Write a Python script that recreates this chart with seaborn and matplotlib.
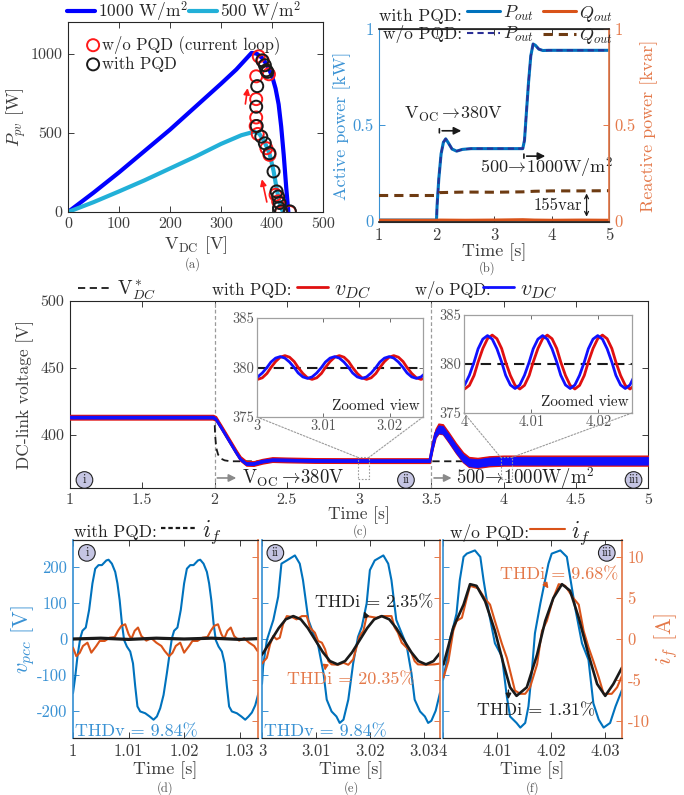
import numpy as np
import matplotlib.pyplot as plt
import seaborn as sns
from matplotlib.patches import Rectangle, ConnectionPatch

# ---------------- data ----------------
# (a) P-V curves and operating points
v_pv_1000 = [0, 50, 100, 150, 200, 250, 300, 330, 350, 360, 370, 380, 390, 400, 407, 413, 418, 423, 428, 432]
p_pv_1000 = [0, 122, 250, 385, 520, 665, 810, 900, 970, 1005, 1000, 975, 930, 860, 780, 680, 540, 360, 150, 0]
v_pv_500 = [0, 50, 100, 150, 200, 250, 300, 340, 365, 375, 385, 395, 403, 409, 414, 418, 422]
p_pv_500 = [0, 62, 130, 200, 275, 350, 430, 485, 507, 495, 445, 370, 260, 150, 70, 25, 0]
v_op_wo = [374, 382, 369, 394, 369, 369, 368, 372, 389, 395, 407, 412, 418, 435]
p_op_wo = [983, 954, 857, 870, 713, 597, 543, 493, 403, 361, 109, 67, 0, 0]
v_op_with = [381, 386, 389, 391, 371, 369, 370, 379, 386, 395, 403, 409, 412, 415, 414, 418, 435]
p_op_with = [958, 927, 895, 885, 795, 665, 543, 476, 434, 371, 256, 130, 98, 57, 25, 4, 4]

# (b) output powers
t_p = [1.0, 2.0, 2.01, 2.04, 2.08, 2.12, 2.16, 2.2, 2.27, 2.35, 2.45, 2.6, 3.5, 3.53, 3.56, 3.6, 3.64, 3.68, 3.72, 3.78, 3.85, 3.95, 5.0]
p_out_with = [0.005, 0.005, 0.08, 0.22, 0.35, 0.41, 0.428, 0.41, 0.375, 0.364, 0.373, 0.377, 0.377, 0.42, 0.55, 0.72, 0.86, 0.922, 0.915, 0.895, 0.888, 0.889, 0.889]
p_out_wo = [0.005, 0.005, 0.08, 0.22, 0.35, 0.41, 0.428, 0.41, 0.375, 0.364, 0.373, 0.377, 0.377, 0.42, 0.55, 0.72, 0.86, 0.922, 0.915, 0.895, 0.888, 0.889, 0.889]
t_q = [1.0, 2.0, 2.05, 2.5, 3.0, 3.5, 3.7, 4.0, 4.5, 5.0]
q_out_with = [0.004, 0.004, 0.005, 0.004, 0.005, 0.007, 0.005, 0.004, 0.005, 0.004]
q_out_wo = [0.133, 0.133, 0.148, 0.151, 0.150, 0.152, 0.155, 0.157, 0.157, 0.158]

# (c) DC-link voltage
t_c = [1.0, 1.99, 2.01, 2.05, 2.10, 2.15, 2.18, 2.22, 2.27, 2.33, 2.40, 2.50, 2.70, 3.00, 3.49,
       3.51, 3.53, 3.55, 3.58, 3.62, 3.67, 3.72, 3.76, 3.82, 3.90, 4.00, 4.50, 5.00]
vdc_with = [413, 413, 412, 405, 396, 387, 382, 378.5, 378.3, 380, 381.3, 381, 380.6, 380.5, 380.5,
            392, 401, 404.5, 404, 398, 390, 383, 379.5, 378.8, 380, 380.5, 380.5, 380.5]
vdc_wo = [413, 413, 411.5, 404.5, 395.5, 386.5, 381.5, 378.2, 378.2, 380, 381.1, 380.9, 380.5, 380.4, 380.4,
          391, 400.5, 404, 403.5, 397.5, 389.5, 382.5, 379.2, 378.6, 379.9, 380.4, 380.4, 380.4]
rip_with = [1.7, 1.7, 1.7, 1.7, 1.7, 1.7, 1.7, 1.7, 1.7, 1.7, 1.7, 1.7, 1.7, 1.7, 1.7,
            2.6, 3.3, 3.7, 3.7, 3.7, 3.7, 3.7, 3.7, 3.7, 3.7, 3.7, 3.7, 3.7]
rip_wo = [1.0, 1.0, 1.0, 1.0, 1.0, 1.0, 1.0, 1.0, 1.0, 1.0, 1.0, 1.0, 1.0, 1.0, 1.0,
          1.8, 2.5, 2.9, 2.9, 2.9, 2.9, 2.9, 2.9, 2.9, 2.9, 2.9, 2.9, 2.9]
t_ref = [1.0, 2.0, 2.004, 2.012, 2.025, 2.045, 2.07, 2.11, 5.0]
v_ref = [413, 413, 400, 390, 385, 382, 380.7, 380, 380]
vdc_set = 380

# zoomed views (sampled every 30 degrees of the ripple)
t_z1 = [2.9994, 3.0001, 3.0008, 3.0015, 3.0021, 3.0028, 3.0035, 3.0042, 3.0049, 3.0056, 3.0062, 3.0069,
        3.0076, 3.0083, 3.0090, 3.0097, 3.0103, 3.0110, 3.0117, 3.0124, 3.0131, 3.0138, 3.0144, 3.0151,
        3.0158, 3.0165, 3.0172, 3.0179, 3.0185, 3.0192, 3.0199, 3.0206, 3.0213, 3.0220, 3.0226, 3.0233,
        3.0240, 3.0247, 3.0254]
z1_wo = [378.9, 379.05, 379.45, 380.0, 380.55, 380.95, 381.1, 380.95, 380.55, 380.0, 379.45, 379.05,
         378.9, 379.05, 379.45, 380.0, 380.55, 380.95, 381.1, 380.95, 380.55, 380.0, 379.45, 379.05,
         378.9, 379.05, 379.45, 380.0, 380.55, 380.95, 381.1, 380.95, 380.55, 380.0, 379.45, 379.05,
         378.9, 379.05, 379.45]
z1_with = [378.96, 378.8, 378.96, 379.4, 380.0, 380.6, 381.04, 381.2, 381.04, 380.6, 380.0, 379.4,
           378.96, 378.8, 378.96, 379.4, 380.0, 380.6, 381.04, 381.2, 381.04, 380.6, 380.0, 379.4,
           378.96, 378.8, 378.96, 379.4, 380.0, 380.6, 381.04, 381.2, 381.04, 380.6, 380.0, 379.4,
           378.96, 378.8, 378.96]
t_z2 = [3.9994, 4.0001, 4.0008, 4.0015, 4.0021, 4.0028, 4.0035, 4.0042, 4.0049, 4.0056, 4.0062, 4.0069,
        4.0076, 4.0083, 4.0090, 4.0097, 4.0103, 4.0110, 4.0117, 4.0124, 4.0131, 4.0138, 4.0144, 4.0151,
        4.0158, 4.0165, 4.0172, 4.0179, 4.0185, 4.0192, 4.0199, 4.0206, 4.0213, 4.0220, 4.0226, 4.0233,
        4.0240, 4.0247, 4.0254]
z2_wo = [377.5, 377.86, 378.85, 380.2, 381.55, 382.54, 382.9, 382.54, 381.55, 380.2, 378.85, 377.86,
         377.5, 377.86, 378.85, 380.2, 381.55, 382.54, 382.9, 382.54, 381.55, 380.2, 378.85, 377.86,
         377.5, 377.86, 378.85, 380.2, 381.55, 382.54, 382.9, 382.54, 381.55, 380.2, 378.85, 377.86,
         377.5, 377.86, 378.85]
z2_with = [377.82, 377.45, 377.82, 378.83, 380.2, 381.58, 382.58, 382.95, 382.58, 381.58, 380.2, 378.83,
           377.82, 377.45, 377.82, 378.83, 380.2, 381.58, 382.58, 382.95, 382.58, 381.58, 380.2, 378.83,
           377.82, 377.45, 377.82, 378.83, 380.2, 381.58, 382.58, 382.95, 382.58, 381.58, 380.2, 378.83,
           377.82, 377.45, 377.82]

# (d) region i
t_d_v = [1.0000, 1.0004, 1.0008, 1.0013, 1.0017, 1.0023, 1.0029, 1.0035, 1.0040, 1.0046, 1.0052, 1.0060,
         1.0064, 1.0070, 1.0076, 1.0080, 1.0084, 1.0088, 1.0092, 1.0097, 1.0103, 1.0108, 1.0112, 1.0116,
         1.0121, 1.0130, 1.0138, 1.0145, 1.0151, 1.0157, 1.0163, 1.0169, 1.0174, 1.0178, 1.0182, 1.0188,
         1.0194, 1.0200, 1.0205, 1.0211, 1.0217, 1.0225, 1.0229, 1.0235, 1.0241, 1.0245, 1.0249, 1.0253,
         1.0257, 1.0262, 1.0268, 1.0273, 1.0277, 1.0281, 1.0286, 1.0295, 1.0303, 1.0310, 1.0316, 1.0322,
         1.0328, 1.0334]
vpcc_d = [-151, -105, -49, 2, 23, 32, 81, 155, 196, 206, 206, 219, 221, 210, 187, 155, 108, 44, -3, -21,
          -35, -68, -132, -188, -202, -207, -216, -225, -216, -193, -156, -95, -40,
          2, 23, 32, 81, 155, 196, 206, 206, 219, 221, 210, 187, 155, 108, 44, -3, -21, -35, -68, -132,
          -188, -202, -207, -216, -225, -216, -205, -185, -150]
t_d_i = [1.0000, 1.0006, 1.0012, 1.0018, 1.0026, 1.0033, 1.0042, 1.0048, 1.0057, 1.0066, 1.0075, 1.0081,
         1.0087, 1.0094, 1.0100, 1.0105, 1.0111, 1.0117, 1.0123, 1.0132, 1.0141, 1.0150, 1.0159, 1.0165,
         1.0173, 1.0179, 1.0185, 1.0193, 1.0200, 1.0209, 1.0215, 1.0224, 1.0233, 1.0242, 1.0248, 1.0254,
         1.0261, 1.0267, 1.0272, 1.0278, 1.0284, 1.0290, 1.0299, 1.0308, 1.0317, 1.0326, 1.0332]
if_wo_d = [-1.06, -2.1, -1.7, -0.85, -0.45, -1.67, -0.85, -0.24, -0.24, 0.16, 0.24, 1.0, 1.6, 1.8, 0.6,
           0.0, 1.0, 1.4, 0.37, -0.2, 0.1, -0.45, -0.85, -1.46,
           -2.1, -1.7, -0.85, -0.45, -1.67, -0.85, -0.24, -0.24, 0.16, 0.24, 1.0, 1.6, 1.8, 0.6, 0.0,
           1.0, 1.4, 0.37, -0.2, 0.1, -0.45, -0.85, -1.46]
t_d_k = [1.0, 1.005, 1.010, 1.015, 1.020, 1.025, 1.030, 1.0334]
if_with_d = [0.0, 0.1, -0.05, 0.1, 0.0, 0.1, -0.05, 0.05]

# (e) region ii
t_e_v = [3.0000, 3.0002, 3.0009, 3.0015, 3.0021, 3.0030, 3.0036, 3.0046, 3.0061, 3.0070, 3.0076, 3.0086,
         3.0095, 3.0104, 3.0114, 3.0120, 3.0129, 3.0138, 3.0144, 3.0151, 3.0160, 3.0169, 3.0178, 3.0185,
         3.0194, 3.0200, 3.0209, 3.0225, 3.0234, 3.0240, 3.0249, 3.0259, 3.0268, 3.0277, 3.0283, 3.0293,
         3.0302, 3.0308, 3.0314, 3.0322, 3.0330]
vpcc_e = [-125, -77, -3, 25, 53, 118, 210, 219, 233, 210, 164, 53, 16, -17, -95, -169, -202, -216, -234,
          -225, -169, -68, 6, 34, 99, 192, 219, 233, 210, 164, 53, 16, -17, -95, -169, -202, -216, -234,
          -228, -200, -150]
t_e_i = [3.0000, 3.0009, 3.0015, 3.0021, 3.0027, 3.0033, 3.0039, 3.0046, 3.0055, 3.0064, 3.0074, 3.0083,
         3.0089, 3.0098, 3.0104, 3.0111, 3.0117, 3.0123, 3.0129, 3.0141, 3.0151, 3.0160, 3.0169, 3.0175,
         3.0181, 3.0188, 3.0194, 3.0203, 3.0212, 3.0222, 3.0240, 3.0246, 3.0252, 3.0259, 3.0268, 3.0277,
         3.0283, 3.0289, 3.0305, 3.0320, 3.0330]
if_wo_e = [-3.0, -2.3, -0.65, 0.37, -0.04, 0.16, 1.8, 2.8, 2.7, 2.4, 2.8, 2.8, 1.4, 0.77, -0.24, -0.45,
           -1.26, -2.7, -3.1, -3.15, -2.9, -3.15, -2.5, -1.05, 0.37, 1.0, 2.8, 2.7, 2.6, 2.8, 2.8, 1.4,
           0.77, -0.45, -1.05, -1.67, -2.7, -3.1, -3.15, -3.1, -3.0]
t_e_k = [2.9990, 3.0003, 3.0017, 3.0031, 3.0044, 3.0058, 3.0072, 3.0085, 3.0099, 3.0113, 3.0126, 3.0140,
         3.0154, 3.0167, 3.0181, 3.0195, 3.0208, 3.0222, 3.0236, 3.0249, 3.0263, 3.0277, 3.0290, 3.0304,
         3.0318, 3.0331, 3.0345]
if_with_e = [-2.7, -1.63, -0.15, 1.33, 2.4, 2.8, 2.4, 1.33, -0.15, -1.63, -2.7, -3.1, -2.7, -1.63, -0.15,
             1.33, 2.4, 2.8, 2.4, 1.33, -0.15, -1.63, -2.7, -3.1, -2.7, -1.63, -0.15]

# (f) region iii
t_f_v = [4.0000, 4.0010, 4.0014, 4.0019, 4.0025, 4.0031, 4.0038, 4.0044, 4.0059, 4.0069, 4.0075, 4.0084,
         4.0096, 4.0109, 4.0118, 4.0124, 4.0136, 4.0143, 4.0152, 4.0158, 4.0164, 4.0170, 4.0180, 4.0195,
         4.0201, 4.0217, 4.0229, 4.0235, 4.0244, 4.0257, 4.0269, 4.0278, 4.0288, 4.0297, 4.0309, 4.0319,
         4.0331]
vpcc_f = [-114, -39, 6, 34, 71, 164, 229, 238, 247, 229, 164, 80, -12, -49, -160, -216, -234, -247, -234,
          -188, -95, 16, 99, 210, 238, 247, 229, 173, 90, -12, -58, -179, -225, -247, -234, -188, -142]
t_f_i = [4.0001, 4.0010, 4.0019, 4.0025, 4.0035, 4.0044, 4.0050, 4.0065, 4.0078, 4.0087, 4.0096, 4.0109,
         4.0118, 4.0124, 4.0133, 4.0143, 4.0152, 4.0161, 4.0174, 4.0183, 4.0192, 4.0204, 4.0214, 4.0226,
         4.0241, 4.0251, 4.0260, 4.0269, 4.0278, 4.0288, 4.0297, 4.0312, 4.0322, 4.0331]
if_wo_f = [-4.7, -2.7, 1.0, 2.2, 2.6, 5.0, 6.5, 6.2, 4.9, 4.2, 2.2, -0.6, -2.3, -3.9, -6.3, -6.7, -6.7,
           -5.9, -3.1, 1.0, 2.2, 5.0, 6.7, 6.5, 5.0, 4.2, 1.0, -1.0, -2.7, -4.7, -6.7, -6.7, -5.9, -4.5]
t_f_k = [4.0001, 4.0019, 4.0038, 4.0050, 4.0062, 4.0078, 4.0096, 4.0112, 4.0124, 4.0136, 4.0155, 4.0174,
         4.0189, 4.0204, 4.0220, 4.0235, 4.0251, 4.0269, 4.0285, 4.0300, 4.0315, 4.0331]
if_with_f = [-3.1, 1.4, 4.2, 6.7, 6.5, 4.6, 1.0, -3.1, -5.9, -6.95, -5.9, -1.9, 2.2, 5.0, 6.7, 5.9, 2.6,
             -1.9, -5.5, -6.95, -5.5, -3.5]

# ---------------- style ----------------
sns.set_theme(style='white')
plt.rcParams['font.family'] = ['cmr10', 'DejaVu Serif']
plt.rcParams['mathtext.fontset'] = 'cm'
plt.rcParams['axes.formatter.use_mathtext'] = True
plt.rcParams['axes.unicode_minus'] = False

PV_BLUE = '#0000ff'
PV_CYAN = '#22b0d8'
RED = '#ff1a1a'
P_BLUE = '#0072BD'
P_DASH = '#2a2f96'
Q_ORANGE = '#D95319'
Q_BROWN = '#6e3b12'
TXT_BLUE = '#3a92d4'
TXT_ORANGE = '#e4794a'
GRAY = '#3c3c3c'
EDGE = '#262626'
VDC_RED = '#e01010'
VDC_BLUE = '#1010ff'

W, H = 684, 795


def px_box(l, t, r, b):
    return [l / W, 1 - b / H, (r - l) / W, (b - t) / H]


def fx(x):
    return x / W


def fy(y):
    return 1 - y / H


def style_box(ax, size=11.5):
    ax.tick_params(which='both', direction='in', length=4, width=0.7, top=True, right=True,
                   bottom=True, left=True, labelsize=size, colors=GRAY, pad=4)
    for sp in ax.spines.values():
        sp.set_color(EDGE)
        sp.set_linewidth(0.8)


def line(ax, x, y, **kw):
    sns.lineplot(x=x, y=y, ax=ax, estimator=None, sort=False, **kw)


fig = plt.figure(figsize=(6.84, 7.95), dpi=100)

# ---------------- (a) ----------------
ax_a = fig.add_axes(px_box(68, 22, 323, 212))
line(ax_a, v_pv_1000, p_pv_1000, color=PV_BLUE, linewidth=3)
line(ax_a, v_pv_500, p_pv_500, color=PV_CYAN, linewidth=3)
sns.scatterplot(x=v_op_wo, y=p_op_wo, ax=ax_a, s=75, facecolor='none', edgecolor=RED, linewidth=1.4, zorder=3)
sns.scatterplot(x=v_op_with, y=p_op_with, ax=ax_a, s=75, facecolor='none', edgecolor='k', linewidth=1.4, zorder=4)
ax_a.annotate('', xy=(353, 800), xytext=(347, 665),
              arrowprops=dict(arrowstyle='-|>', color=RED, lw=1.2, mutation_scale=9))
ax_a.annotate('', xy=(379, 224), xytext=(391, 46),
              arrowprops=dict(arrowstyle='-|>', color=RED, lw=1.2, mutation_scale=9))
ax_a.set_xlim(0, 500)
ax_a.set_ylim(0, 1200)
ax_a.set_xticks([0, 100, 200, 300, 400, 500], ['0', '100', '200', '300', '400', '500'])
ax_a.set_yticks([0, 500, 1000], ['0', '500', '1000'])
style_box(ax_a)
ax_a.set_xlabel(r'V$_{\rm DC}$ [V]', fontsize=13, color=GRAY, labelpad=2)
ax_a.set_ylabel(r'$P_{pv}$ [W]', fontsize=13, color=GRAY, labelpad=2)
leg_a1 = ax_a.legend(ax_a.lines[:2], ['1000 W/m$^2$', '500 W/m$^2$'], loc='lower center',
                     bbox_to_anchor=(0.455, 0.99), ncol=2, frameon=False, fontsize=12.5,
                     handlelength=1.6, handletextpad=0.15, columnspacing=0.1, borderpad=0, borderaxespad=0)
ax_a.add_artist(leg_a1)
ax_a.legend(ax_a.collections[:2], ['w/o PQD (current loop)', 'with PQD'], loc='upper left',
            bbox_to_anchor=(0.02, 0.99), frameon=False, fontsize=12, handletextpad=0.05,
            labelspacing=0.12, borderpad=0.2, handlelength=1.0)
fig.text(fx(193), fy(264), '(a)', fontsize=9, color='#555555', ha='center', va='center')

# ---------------- (b) ----------------
ax_b = fig.add_axes(px_box(379, 29, 609, 222))
ax_b2 = ax_b.twinx()
line(ax_b, t_p, p_out_with, color=P_BLUE, linewidth=2.2)
line(ax_b, t_p, p_out_wo, color=P_DASH, linewidth=1.5, linestyle=(0, (3, 2)))
line(ax_b2, t_q, q_out_with, color=Q_ORANGE, linewidth=2.2)
line(ax_b2, t_q, q_out_wo, color=Q_BROWN, linewidth=2.2, linestyle=(0, (3, 2)))
for a in (ax_b, ax_b2):
    a.set_xlim(1, 5)
    a.set_ylim(-0.005, 1.0)
style_box(ax_b, 12)
ax_b.tick_params(axis='y', right=False, colors=TXT_BLUE)
ax_b.spines['left'].set_color(TXT_BLUE)
ax_b2.tick_params(axis='y', direction='in', length=4, width=0.7, right=True, left=False,
                  labelsize=12, colors=TXT_ORANGE, pad=4)
ax_b2.spines['right'].set_color(TXT_ORANGE)
ax_b2.spines['left'].set_visible(False)
ax_b2.spines['top'].set_color(EDGE)
ax_b2.spines['bottom'].set_color(EDGE)
ax_b.set_xticks([1, 2, 3, 4, 5], ['1', '2', '3', '4', '5'])
ax_b.set_yticks([0, 0.5, 1], ['0', '0.5', '1'])
ax_b2.set_yticks([0, 0.5, 1], ['0', '0.5', '1'])
ax_b.set_xlabel('Time [s]', fontsize=13, color=GRAY, labelpad=0)
ax_b.set_ylabel('Active power [kW]', fontsize=13, color=TXT_BLUE, labelpad=1)
ax_b2.set_ylabel('Reactive power [kvar]', fontsize=13, color=TXT_ORANGE, labelpad=3)
ax_b.annotate('', xy=(2.48, 0.47), xytext=(2.05, 0.47),
              arrowprops=dict(arrowstyle='-|>', color='k', lw=1.2, mutation_scale=11))
ax_b.annotate('', xy=(2.05, 0.445), xytext=(2.05, 0.495),
              arrowprops=dict(arrowstyle='-', color='k', lw=1.2))
ax_b.text(2.29, 0.555, r'V$_{\rm OC}\rightarrow\!$380V', fontsize=13, color='#222222', ha='center', va='center')
ax_b.annotate('', xy=(3.94, 0.338), xytext=(3.52, 0.338),
              arrowprops=dict(arrowstyle='-|>', color='k', lw=1.2, mutation_scale=11))
ax_b.annotate('', xy=(3.52, 0.313), xytext=(3.52, 0.363),
              arrowprops=dict(arrowstyle='-', color='k', lw=1.2))
ax_b.text(3.91, 0.277, r'500$\!\rightarrow\!$1000W/m$^2$', fontsize=13, color='#222222', ha='center', va='center')
ax_b.annotate('', xy=(4.61, 0.008), xytext=(4.61, 0.158),
              arrowprops=dict(arrowstyle='<->', color='k', lw=0.9, mutation_scale=7))
ax_b.text(4.11, 0.08, '155var', fontsize=12, color='#222222', ha='center', va='center')
fig.text(fx(462), fy(16), 'with PQD:', fontsize=12.5, color='#222222', ha='right', va='center')
fig.text(fx(462), fy(34), 'w/o PQD:', fontsize=12.5, color='#222222', ha='right', va='center')
fig.legend([ax_b.lines[0], ax_b.lines[1], ax_b2.lines[0], ax_b2.lines[1]],
           [r'$P_{out}$', r'$P_{out}$', r'$Q_{out}$', r'$Q_{out}$'], ncol=2, loc='center left',
           bbox_to_anchor=(fx(467), fy(25)), frameon=False, fontsize=13, handlelength=1.8,
           handletextpad=0.2, columnspacing=0.5, labelspacing=0.15, borderpad=0, borderaxespad=0)
fig.text(fx(487), fy(268), '(b)', fontsize=9, color='#555555', ha='center', va='center')

# ---------------- (c) ----------------
ax_c = fig.add_axes(px_box(70, 301, 648, 488))
line(ax_c, t_ref, v_ref, color='k', linewidth=1.3, linestyle=(0, (4, 2.5)), zorder=2)
lo_w = [v - r for v, r in zip(vdc_with, rip_with)]
hi_w = [v + r for v, r in zip(vdc_with, rip_with)]
lo_o = [v - r for v, r in zip(vdc_wo, rip_wo)]
hi_o = [v + r for v, r in zip(vdc_wo, rip_wo)]
ax_c.fill_between(t_c, lo_w, hi_w, color=VDC_RED, lw=1.0, zorder=3)
line(ax_c, t_c, vdc_with, color=VDC_RED, linewidth=2, zorder=3.5)
ax_c.fill_between(t_c, lo_o, hi_o, color=VDC_BLUE, lw=0.6, zorder=4)
line(ax_c, t_c, vdc_wo, color=VDC_BLUE, linewidth=2, zorder=4.5)
for xv in (2.0, 3.5):
    ax_c.axvline(xv, color='#9a9a9a', lw=0.9, ls=(0, (3, 2)), zorder=1)
ax_c.set_xlim(1, 5)
ax_c.set_ylim(360, 500)
ax_c.set_xticks([1, 1.5, 2, 2.5, 3, 3.5, 4, 4.5, 5], ['1', '1.5', '2', '2.5', '3', '3.5', '4', '4.5', '5'])
ax_c.set_yticks([400, 450, 500], ['400', '450', '500'])
style_box(ax_c)
ax_c.set_xlabel('Time [s]', fontsize=12.5, color=GRAY, labelpad=-1)
ax_c.set_ylabel('DC-link voltage [V]', fontsize=12.5, color=GRAY, labelpad=5)
ax_c.annotate('', xy=(2.17, 367.5), xytext=(2.0, 367.5),
              arrowprops=dict(arrowstyle='-|>', color='#8a8a8a', lw=1.2, mutation_scale=11))
ax_c.text(2.19, 367.5, r'V$_{\rm OC}\rightarrow\!$380V', fontsize=13.5, color='#222222', va='center')
ax_c.annotate('', xy=(3.66, 367.5), xytext=(3.5, 367.5),
              arrowprops=dict(arrowstyle='-|>', color='#8a8a8a', lw=1.2, mutation_scale=11))
ax_c.text(3.67, 367.5, r'500$\!\rightarrow\!$1000W/m$^2$', fontsize=13.5, color='#222222', va='center')
for xt, lab in ((1.1, 'i'), (3.325, 'ii'), (4.9, 'iii')):
    ax_c.text(xt, 366, lab, fontsize=9, ha='center', va='center', color='#222222', zorder=6,
              bbox=dict(boxstyle='circle,pad=0.18', fc='#c5c5e3', ec='#222222', lw=0.8))
ax_c.add_patch(Rectangle((2.99, 367), 0.08, 16, fill=False, ec='#9a9a9a', lw=0.8, ls=(0, (1.5, 1.5)), zorder=5))
ax_c.add_patch(Rectangle((3.98, 367), 0.08, 16, fill=False, ec='#9a9a9a', lw=0.8, ls=(0, (1.5, 1.5)), zorder=5))

fig.legend([ax_c.lines[0]], [r'V$^*_{DC}$'], loc='center left', bbox_to_anchor=(fx(78), fy(290)),
           frameon=False, fontsize=14, handlelength=1.8, handletextpad=0.2, borderpad=0, borderaxespad=0)
fig.text(fx(212), fy(290), 'with PQD:', fontsize=12, color='#222222', va='center')
fig.legend([ax_c.lines[1]], [r'$v_{DC}$'], loc='center left', bbox_to_anchor=(fx(297), fy(290)),
           frameon=False, fontsize=16, handlelength=1.4, handletextpad=0.25,
           borderpad=0, borderaxespad=0)
fig.text(fx(415), fy(290), 'w/o PQD:', fontsize=12, color='#222222', va='center')
fig.legend([ax_c.lines[2]], [r'$v_{DC}$'], loc='center left', bbox_to_anchor=(fx(483), fy(290)),
           frameon=False, fontsize=16, handlelength=1.4, handletextpad=0.25,
           borderpad=0, borderaxespad=0)
fig.text(fx(360), fy(531), '(c)', fontsize=9, color='#555555', ha='center', va='center')

# zoomed insets
insets = [
    (px_box(257, 318, 423, 417), t_z1, z1_wo, z1_with, (3.0, 3.025), [3.0, 3.01, 3.02], ['3', '3.01', '3.02'], 2.99, 3.07),
    (px_box(464, 315, 632, 413), t_z2, z2_wo, z2_with, (4.0, 4.025), [4.0, 4.01, 4.02], ['4', '4.01', '4.02'], 3.98, 4.06),
]
for box, tz, zwo, zwith, xl, xt, xtl, r0, r1 in insets:
    axi = fig.add_axes(box)
    axi.axhline(vdc_set, color='k', lw=1.5, ls=(0, (5, 3)), zorder=1)
    line(axi, tz, zwith, color=VDC_RED, linewidth=2.0)
    line(axi, tz, zwo, color=VDC_BLUE, linewidth=2.0)
    axi.set_xlim(*xl)
    axi.set_ylim(375, 385)
    axi.set_xticks(xt, xtl)
    axi.set_yticks([375, 380, 385], ['375', '380', '385'])
    axi.tick_params(direction='in', length=3, width=0.6, top=True, right=True, bottom=True, left=True,
                    labelsize=10.5, colors='#555555', pad=2)
    for sp in axi.spines.values():
        sp.set_color('#a0a0a0')
        sp.set_linewidth(0.9)
    axi.text(0.98, 0.04, 'Zoomed view', transform=axi.transAxes, ha='right', va='bottom',
             fontsize=11, color='#222222')
    for xa, xd in ((0, r0), (1, r1)):
        cp = ConnectionPatch(xyA=(xa, 0), coordsA=axi.transAxes, xyB=(xd, 383), coordsB=ax_c.transData,
                             color='#9a9a9a', lw=0.8, ls=(0, (1.5, 1.5)))
        fig.add_artist(cp)

# ---------------- (d)(e)(f) ----------------
panels = [
    (px_box(73, 540, 258, 738), (1.0, 1.0333), [1.0, 1.01, 1.02, 1.03], ['1', '1.01', '1.02', '1.03'],
     t_d_v, vpcc_d, t_d_i, if_wo_d, t_d_k, if_with_d, '(d)', 'i', 0.075),
    (px_box(262, 540, 440, 738), (3.0, 3.0330), [3.0, 3.01, 3.02, 3.03], ['3', '3.01', '3.02', '3.03'],
     t_e_v, vpcc_e, t_e_i, if_wo_e, t_e_k, if_with_e, '(e)', 'ii', 0.075),
    (px_box(443, 540, 622, 738), (4.0, 4.0331), [4.0, 4.01, 4.02, 4.03], ['4', '4.01', '4.02', '4.03'],
     t_f_v, vpcc_f, t_f_i, if_wo_f, t_f_k, if_with_f, '(f)', 'iii', 0.915),
]
bottom_axes = []
for k, (box, xl, xt, xtl, tv, vv, ti, iv, tk, ik, cap, badge, bx) in enumerate(panels):
    ax = fig.add_axes(box)
    ax2 = ax.twinx()
    line(ax, tv, vv, color=P_BLUE, linewidth=1.5)
    line(ax2, ti, iv, color=Q_ORANGE, linewidth=1.5)
    line(ax2, tk, ik, color='k', linewidth=1.9 if k else 2.3)
    for a in (ax, ax2):
        a.set_xlim(*xl)
    ax.set_ylim(-276, 276)
    ax2.set_ylim(-12.1, 12.1)
    ax.set_xticks(xt, xtl)
    ax.set_yticks([-200, -100, 0, 100, 200], ['-200', '-100', '0', '100', '200'] if k == 0 else [])
    ax2.set_yticks([-10, -5, 0, 5, 10], ['-10', '-5', '0', '5', '10'] if k == 2 else [])
    ax.tick_params(axis='x', direction='in', length=4, width=0.7, top=True, bottom=True,
                   labelsize=12, colors=GRAY, pad=4)
    ax.tick_params(axis='y', direction='in', length=4, width=0.7, left=True, right=False,
                   labelsize=12, colors=TXT_BLUE, pad=4)
    ax2.tick_params(axis='y', direction='in', length=4, width=0.7, right=True, left=False,
                    labelsize=12, colors=TXT_ORANGE, pad=4)
    for sp in ('top', 'bottom'):
        ax.spines[sp].set_color(EDGE)
        ax2.spines[sp].set_color(EDGE)
        ax.spines[sp].set_linewidth(0.8)
        ax2.spines[sp].set_linewidth(0.8)
    ax.spines['left'].set_color(TXT_BLUE)
    ax.spines['right'].set_visible(False)
    ax2.spines['left'].set_visible(False)
    ax2.spines['right'].set_color(TXT_ORANGE)
    ax.set_xlabel('Time [s]', fontsize=13, color=GRAY, labelpad=2)
    ax.text(bx, 0.935, badge, transform=ax.transAxes, fontsize=9, ha='center',
            va='center', color='#222222', zorder=6,
            bbox=dict(boxstyle='circle,pad=0.18', fc='#c5c5e3', ec='#222222', lw=0.8))
    fig.text((box[0] + box[2] / 2), fy(788), cap, fontsize=9, color='#555555', ha='center', va='center')
    bottom_axes.append((ax, ax2))

ax_d, ax_d2 = bottom_axes[0]
ax_e, ax_e2 = bottom_axes[1]
ax_f, ax_f2 = bottom_axes[2]
ax_d.set_ylabel(r'$v_{pcc}$ [V]', fontsize=16, color=TXT_BLUE, labelpad=0)
ax_f2.set_ylabel(r'$i_f$ [A]', fontsize=16, color=TXT_ORANGE, labelpad=2)

ax_d.text(1.0004, -257, 'THDv = 9.84%', fontsize=13, color=TXT_BLUE, va='center')
ax_e.text(3.0003, -257, 'THDv = 9.84%', fontsize=13, color=TXT_BLUE, va='center')
ax_e2.text(3.0098, 4.4, 'THDi = 2.35%', fontsize=13, color='#222222', va='center')
ax_e2.annotate('', xy=(3.0187, 3.7), xytext=(3.0196, 2.3),
               arrowprops=dict(arrowstyle='-|>', color='k', lw=1.0, mutation_scale=8))
ax_e2.text(3.0046, -4.95, 'THDi = 20.35%', fontsize=13, color=TXT_ORANGE, va='center')
ax_e2.annotate('', xy=(3.0116, -4.2), xytext=(3.0118, -3.2),
               arrowprops=dict(arrowstyle='-|>', color=Q_ORANGE, lw=1.0, mutation_scale=8))
ax_f2.text(4.0106, 7.9, 'THDi = 9.68%', fontsize=13, color=TXT_ORANGE, va='center')
ax_f2.annotate('', xy=(4.0198, 5.9), xytext=(4.0184, 7.2),
               arrowprops=dict(arrowstyle='-|>', color=Q_ORANGE, lw=1.0, mutation_scale=8))
ax_f2.text(4.0063, -8.8, 'THDi = 1.31%', fontsize=13, color='#222222', va='center')
ax_f2.annotate('', xy=(4.0121, -7.7), xytext=(4.0121, -5.9),
               arrowprops=dict(arrowstyle='-|>', color='k', lw=1.0, mutation_scale=8))

fig.text(fx(74), fy(532), 'with PQD:', fontsize=12.5, color='#222222', va='center')
leg_k = fig.legend([ax_d2.lines[1]], [r'$i_f$'], loc='center left', bbox_to_anchor=(fx(161), fy(532)),
                   frameon=False, fontsize=17, handlelength=1.5, handletextpad=0.25, borderpad=0,
                   borderaxespad=0)
leg_k.legend_handles[0].set_linestyle((0, (2, 1.3)))
leg_k.legend_handles[0].set_linewidth(1.6)
fig.text(fx(450), fy(533), 'w/o PQD:', fontsize=12.5, color='#222222', va='center')
fig.legend([ax_f2.lines[0]], [r'$i_f$'], loc='center left', bbox_to_anchor=(fx(530), fy(533)),
           frameon=False, fontsize=17, handlelength=1.5, handletextpad=0.25, borderpad=0, borderaxespad=0)

fig.savefig('out.png', dpi=100)
